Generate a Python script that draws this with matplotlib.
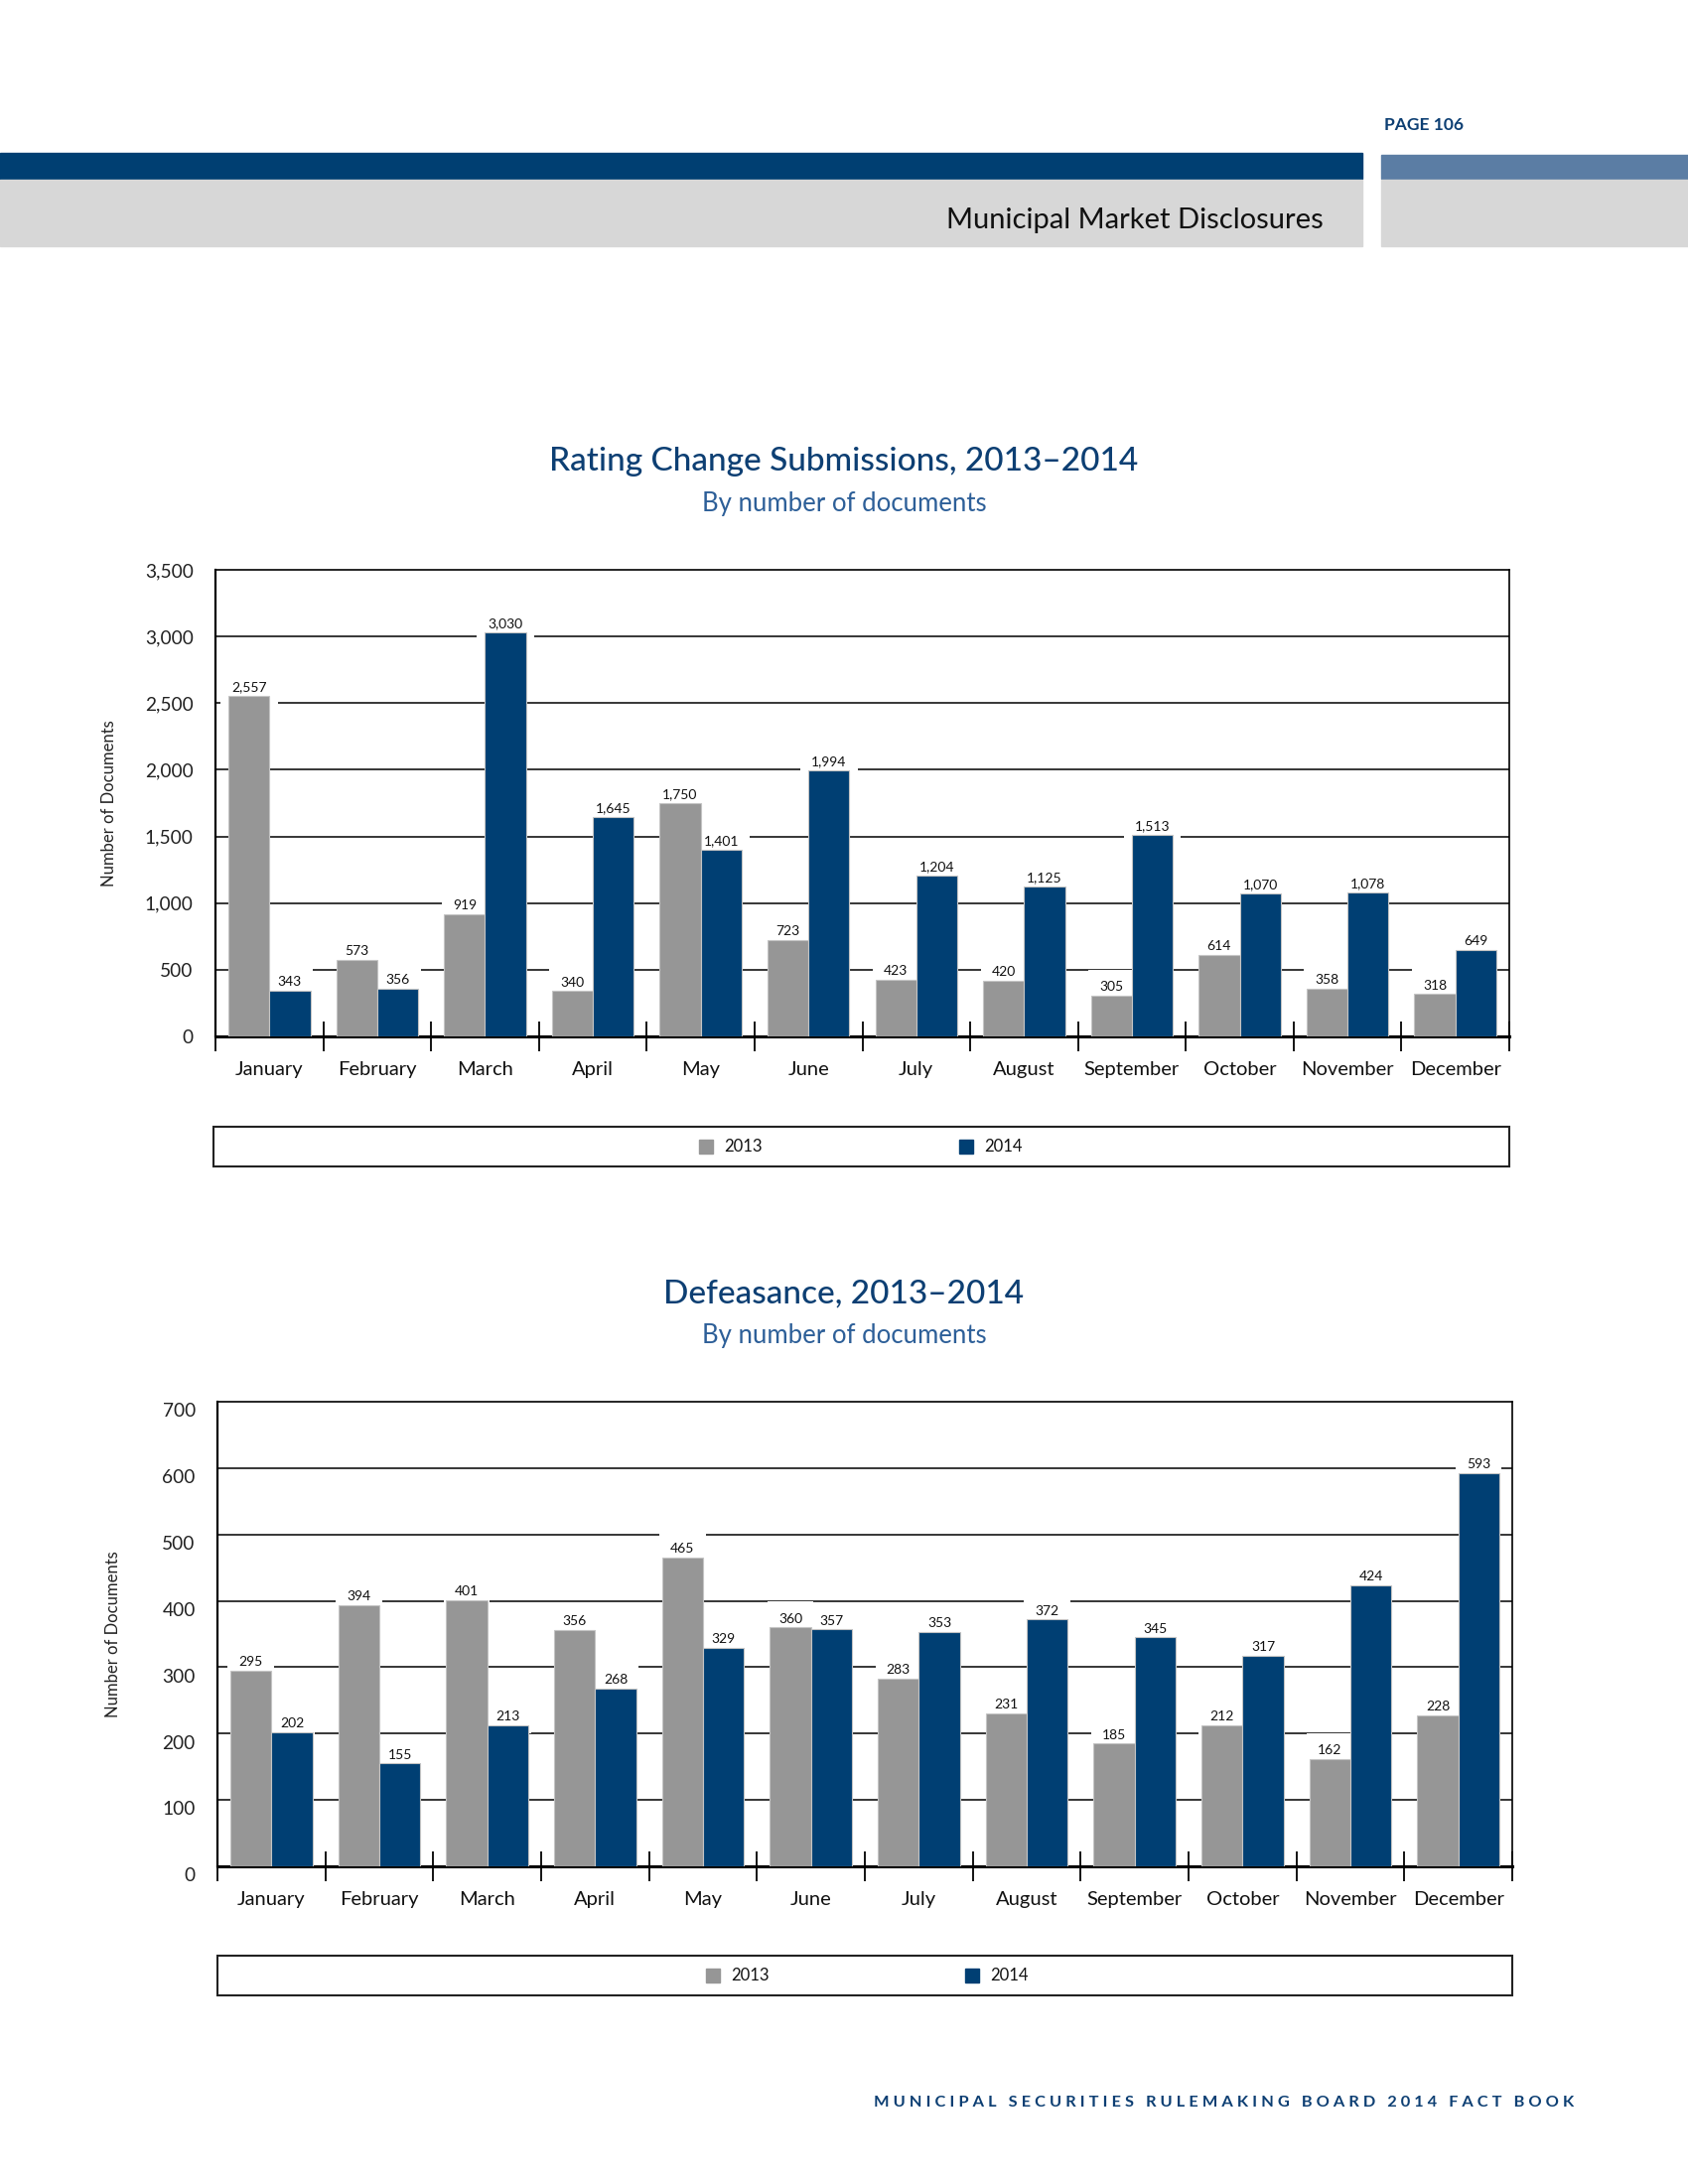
import matplotlib
matplotlib.use("Agg")
import matplotlib.pyplot as plt
from matplotlib.patches import Rectangle
from matplotlib.transforms import ScaledTranslation
import numpy as np

plt.rcParams['font.family'] = ['Lato', 'DejaVu Sans']

# Data
months = ['January', 'February', 'March', 'April', 'May', 'June', 'July',
          'August', 'September', 'October', 'November', 'December']
years = ['2013', '2014']

rating_2013 = [2557, 573, 919, 340, 1750, 723, 423, 420, 305, 614, 358, 318]
rating_2014 = [343, 356, 3030, 1645, 1401, 1994, 1204, 1125, 1513, 1070, 1078, 649]
rating_yticks = [0, 500, 1000, 1500, 2000, 2500, 3000, 3500]

defeas_2013 = [295, 394, 401, 356, 465, 360, 283, 231, 185, 212, 162, 228]
defeas_2014 = [202, 155, 213, 268, 329, 357, 353, 372, 345, 317, 424, 593]
defeas_yticks = [0, 100, 200, 300, 400, 500, 600, 700]

GREY = '#969696'
NAVY = '#003f73'
TITLE_BLUE = '#0d3f73'
SUB_BLUE = '#2d5f98'

W, H = 1700, 2200
fig = plt.figure(figsize=(17, 22), dpi=100)


def fx(px):
    return px / W


def fy(py):
    return 1 - py / H


# Page header
fig.patches.append(Rectangle((0, fy(180)), fx(1372), fy(154) - fy(180),
                             transform=fig.transFigure, color='#003f72', zorder=0))
fig.patches.append(Rectangle((fx(1391), fy(180)), fx(309), fy(156) - fy(180),
                             transform=fig.transFigure, color='#5b7da4', zorder=0))
fig.patches.append(Rectangle((0, fy(248)), fx(1372), fy(181) - fy(248),
                             transform=fig.transFigure, color='#d7d7d7', zorder=0))
fig.patches.append(Rectangle((fx(1391), fy(248)), fx(309), fy(181) - fy(248),
                             transform=fig.transFigure, color='#d7d7d7', zorder=0))
fig.text(fx(1333), fy(222), 'Municipal Market Disclosures', ha='right', va='center',
         fontsize=21, fontweight='normal', color='#111111')
fig.text(fx(1394), fy(126), 'PAGE 106', ha='left', va='center',
         fontsize=12.5, fontweight='bold', color=TITLE_BLUE)

footer = 'MUNICIPAL SECURITIES RULEMAKING BOARD 2014 FACT BOOK'
footer_spaced = '   '.join(' '.join(word) for word in footer.split(' '))
fig.text(fx(1585), fy(2118), footer_spaced, ha='right', va='center',
         fontsize=11.8, fontweight='bold', color=TITLE_BLUE)


def draw_chart(box, data13, data14, yticks, title, title_y, legend_box, legend_x,
               ylabel_x, ytick_shift=0):
    left, top, right, bottom = box
    ax = fig.add_axes([fx(left), fy(bottom), fx(right) - fx(left), fy(top) - fy(bottom)])
    x = np.arange(len(months))
    w = 0.38

    # bars
    ax.bar(x - w / 2, data13, w, color=GREY, edgecolor='#c4c4c4', linewidth=0.8, zorder=3)
    ax.bar(x + w / 2, data14, w, color=NAVY, edgecolor='#c4c4c4', linewidth=0.8, zorder=3)

    # value labels (white boxes break the gridlines like in the original)
    for xs, vals in ((x - w / 2, data13), (x + w / 2, data14)):
        for xi, v in zip(xs, vals):
            ax.annotate(f'{v:,}', (xi, v), xytext=(0, 2), textcoords='offset points',
                        ha='center', va='bottom', fontsize=10, color='#111111', zorder=2,
                        bbox=dict(boxstyle='square,pad=0.8', fc='white', ec='none'))

    ax.set_xlim(-0.5, len(months) - 0.5)
    ax.set_ylim(yticks[0], yticks[-1])
    ax.set_yticks(yticks)
    ax.set_yticklabels([f'{t:,}' for t in yticks])
    for t in yticks[1:-1]:
        ax.axhline(t, color='black', linewidth=1.1, zorder=1)

    # category separators as ticks, labels at centres
    ax.set_xticks(np.arange(len(months) + 1) - 0.5)
    ax.set_xticklabels([])
    ax.set_xticks(x, minor=True)
    ax.set_xticklabels(months, minor=True, fontsize=14.5, color='#111111')
    ax.tick_params(axis='x', which='major', direction='inout', length=22, width=1.3,
                   color='black')
    ax.tick_params(axis='x', which='minor', length=0, pad=18)
    ax.tick_params(axis='y', length=0, pad=16, labelsize=13.8, labelcolor='#222222')

    for side in ['top', 'right']:
        ax.spines[side].set_linewidth(1.2)
    ax.spines['left'].set_linewidth(1.6)
    ax.spines['bottom'].set_linewidth(2.2)

    if ytick_shift:
        off = ScaledTranslation(0, -ytick_shift / 72, fig.dpi_scale_trans)
        for lab in ax.get_yticklabels():
            lab.set_transform(lab.get_transform() + off)

    ax.set_ylabel('Number of Documents', fontsize=12, color='#222222')
    ax.yaxis.set_label_coords((ylabel_x - left) / (right - left), 0.5)

    # titles, centred on the page column
    cx = fx(850)
    fig.text(cx, fy(title_y), title, ha='center', va='center', fontsize=24,
             color=TITLE_BLUE, fontweight='medium')
    fig.text(cx, fy(title_y + 42), 'By number of documents', ha='center', va='center',
             fontsize=18.5, color=SUB_BLUE)

    # legend frame and items
    lx0, ly0, lx1, ly1 = legend_box
    fig.patches.append(Rectangle((fx(lx0), fy(ly1)), fx(lx1) - fx(lx0), fy(ly0) - fy(ly1),
                                 transform=fig.transFigure, fill=False,
                                 edgecolor='#222222', linewidth=1.5))
    ly = (ly0 + ly1) / 2
    for px, col, name in zip(legend_x, [GREY, NAVY], years):
        fig.patches.append(Rectangle((fx(px), fy(ly + 7)), fx(14), fy(0) - fy(14),
                                     transform=fig.transFigure, color=col))
        fig.text(fx(px + 25), fy(ly), name, ha='left', va='center', fontsize=12,
                 color='#111111')
    return ax


draw_chart((217, 574, 1520, 1044), rating_2013, rating_2014, rating_yticks,
           'Rating Change Submissions, 2013\u20132014', 465,
           (215, 1135, 1520, 1175), (704, 966), 118)

draw_chart((219, 1412, 1523, 1880), defeas_2013, defeas_2014, defeas_yticks,
           'Defeasance, 2013\u20132014', 1303,
           (219, 1970, 1523, 2010), (711, 972), 122, ytick_shift=6)

fig.savefig('out.png', dpi=100)
